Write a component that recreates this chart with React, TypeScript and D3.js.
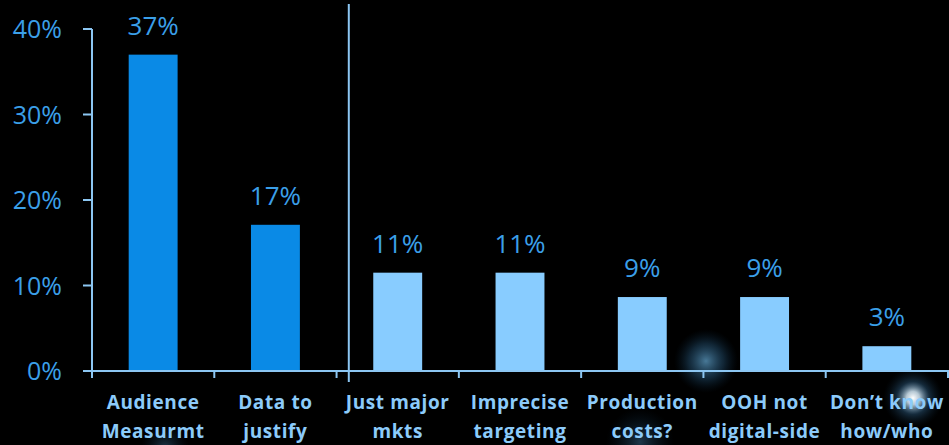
import React from "react";
import * as d3 from "d3";

const categories = [
  ["Audience", "Measurmt"],
  ["Data to", "justify"],
  ["Just major", "mkts"],
  ["Imprecise", "targeting"],
  ["Production", "costs?"],
  ["OOH not", "digital-side"],
  ["Don\u2019t know", "how/who"],
];
const values = [37, 17.1, 11.5, 11.5, 8.65, 8.65, 2.9];
const valueLabels = ["37%", "17%", "11%", "11%", "9%", "9%", "3%"];
const highlighted = [true, true, false, false, false, false, false];
const yTicks = [0, 10, 20, 30, 40];

const W = 949;
const H = 445;
const FONT = "'Open Sans', 'Noto Sans', sans-serif";

export default function App() {
  const left = 92;
  const right = 948;
  const y = d3.scaleLinear().domain([0, 40]).range([371, 29]);
  const keys = categories.map((_, i) => String(i));
  const x = d3
    .scaleBand<string>()
    .domain(keys)
    .range([left, right])
    .paddingInner(0.6)
    .paddingOuter(0.3);
  const step = x.step();
  const bw = x.bandwidth();
  const sepX = (x("2") as number) - 0.2 * step;

  const darkBlue = "#0a8ae6";
  const lightBlue = "#88ccff";
  const textBlue = "#3b9fe8";
  const axisColor = "#8cc6f2";
  const labelColor = "#8ccbfa";

  return (
    <div style={{ position: "absolute", left: 0, top: 0, width: W, height: H, background: "#000" }}>
      <svg width={W} height={H} style={{ display: "block", background: "#000" }}>
        <defs>
          <radialGradient id="glow1">
            <stop offset="0%" stopColor="#5a97bd" stopOpacity={0.8} />
            <stop offset="55%" stopColor="#2a5f86" stopOpacity={0.4} />
            <stop offset="100%" stopColor="#0a2a44" stopOpacity={0} />
          </radialGradient>
          <radialGradient id="glow2">
            <stop offset="0%" stopColor="#ffffff" stopOpacity={1} />
            <stop offset="22%" stopColor="#d5eaf8" stopOpacity={0.85} />
            <stop offset="55%" stopColor="#3b78a8" stopOpacity={0.35} />
            <stop offset="100%" stopColor="#0a2a44" stopOpacity={0} />
          </radialGradient>
          <radialGradient id="glow3">
            <stop offset="0%" stopColor="#3d6f95" stopOpacity={0.5} />
            <stop offset="100%" stopColor="#0a2a44" stopOpacity={0} />
          </radialGradient>
        </defs>
        {/* decorative glows */}
        <circle cx={706} cy={361} r={32} fill="url(#glow1)" />
        <circle cx={913} cy={398} r={30} fill="url(#glow2)" />
        <circle cx={165} cy={448} r={24} fill="url(#glow3)" />
        <circle cx={640} cy={442} r={34} fill="url(#glow3)" />

        {/* y axis */}
        <line x1={left} x2={left} y1={y(40)} y2={y(0)} stroke={axisColor} strokeWidth={2} />
        {yTicks.map((t) => (
          <g key={t}>
            <line x1={left - 9} x2={left} y1={y(t)} y2={y(t)} stroke={axisColor} strokeWidth={2} />
            <text
              x={62}
              y={y(t)}
              dy="0.36em"
              textAnchor="end"
              fill={textBlue}
              fontFamily={FONT}
              fontSize={25}
            >
              {t}%
            </text>
          </g>
        ))}

        {/* bars */}
        {values.map((v, i) => (
          <g key={i}>
            <rect
              x={x(String(i))}
              y={y(v)}
              width={bw}
              height={y(0) - y(v)}
              fill={highlighted[i] ? darkBlue : lightBlue}
            />
            <text
              x={(x(String(i)) as number) + bw / 2}
              y={y(v) - 20}
              textAnchor="middle"
              fill={textBlue}
              fontFamily={FONT}
              fontSize={26}
            >
              {valueLabels[i]}
            </text>
          </g>
        ))}

        {/* x axis */}
        <line x1={left} x2={W} y1={y(0)} y2={y(0)} stroke={axisColor} strokeWidth={2} />
        {keys.map((k, i) => (
          <line
            key={k}
            x1={left + i * step}
            x2={left + i * step}
            y1={y(0)}
            y2={y(0) + 7}
            stroke={axisColor}
            strokeWidth={2}
          />
        ))}
        <line x1={right} x2={right} y1={y(0)} y2={y(0) + 7} stroke={axisColor} strokeWidth={2} />

        {/* separator */}
        <line x1={sepX} x2={sepX} y1={4} y2={382} stroke={axisColor} strokeWidth={2} />

        {/* category labels */}
        {categories.map((lines, i) => (
          <text
            key={i}
            textAnchor="middle"
            fill={labelColor}
            fontFamily={FONT}
            fontWeight={700}
            fontSize={19}
            letterSpacing={0.6}
          >
            <tspan x={(x(String(i)) as number) + bw / 2} y={409}>
              {lines[0]}
            </tspan>
            <tspan x={(x(String(i)) as number) + bw / 2} y={438}>
              {lines[1]}
            </tspan>
          </text>
        ))}
      </svg>
    </div>
  );
}
